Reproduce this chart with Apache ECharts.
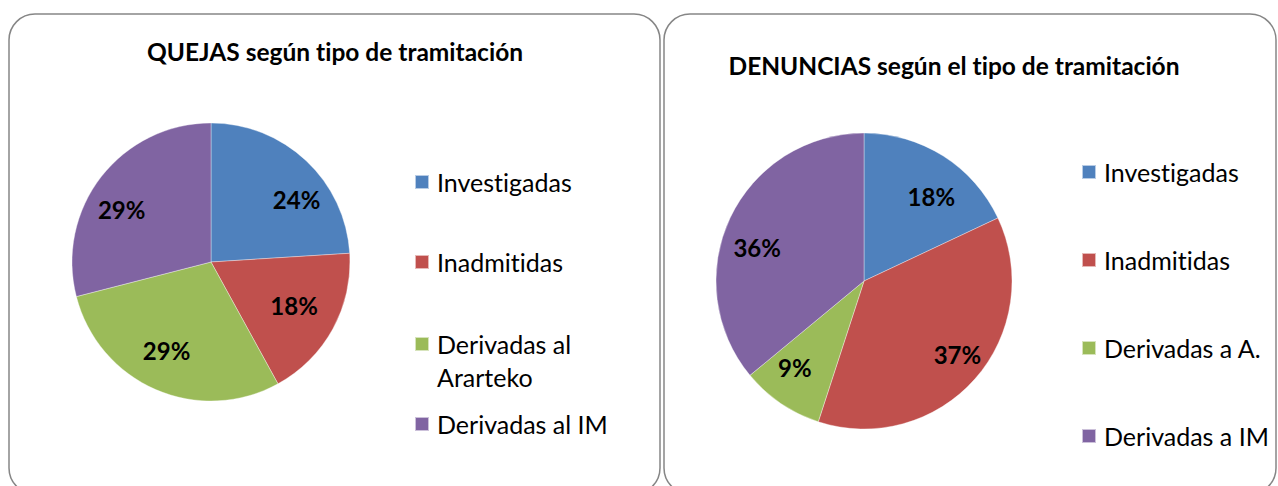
<!DOCTYPE html>
<html>
<head>
<meta charset="utf-8">
<script src="https://cdn.jsdelivr.net/npm/echarts@6/dist/echarts.min.js"></script>
<style>
html,body{margin:0;padding:0;background:#fff;}
#c{width:1278px;height:486px;}
#c text{font-variant-ligatures:none;font-feature-settings:"liga" 0,"clig" 0;}
</style>
</head>
<body>
<div id="c"></div>
<script>
// ---- data ----
const quejasTitle = 'QUEJAS según tipo de tramitación';
const quejasCategories = ['Investigadas', 'Inadmitidas', 'Derivadas al Ararteko', 'Derivadas al IM'];
const quejasValues = [24, 18, 29, 29];

const denunciasTitle = 'DENUNCIAS según el tipo de tramitación';
const denunciasCategories = ['Investigadas', 'Inadmitidas', 'Derivadas a A.', 'Derivadas a IM'];
const denunciasValues = [18, 37, 9, 36];

// ---- style ----
const colors = ['#4F81BD', '#C0504D', '#9BBB59', '#8064A2'];
const FONT = 'Lato, Carlito, "Noto Sans", sans-serif';
// label ring (fraction of radius) and small per-label nudges (px) to mimic Excel's best-fit placement
const quejasLabelRatio = 0.71;
const quejasLabelNudge = [[16, 12], [-6, -5], [-4, -5], [-9, 10]];
const denunciasLabelRatio = 0.74;
const denunciasLabelNudge = [[7, 11], [9, -1], [-6, -7], [-5, 14]];

function pieSeries(cats, vals, center, r, ratio, nudges) {
  return [{
    type: 'pie',
    center: center,
    radius: [0, r],
    startAngle: 90,
    clockwise: true,
    silent: true,
    label: { show: false },
    labelLine: { show: false },
    itemStyle: { borderColor: 'rgba(255,255,255,0.6)', borderWidth: 0.6 },
    emphasis: { disabled: true },
    data: cats.map((n, i) => ({ name: n, value: vals[i], itemStyle: { color: colors[i] } }))
  }, {
    type: 'pie',
    center: center,
    radius: [Math.max(0, (2 * ratio - 1) * r), r],
    startAngle: 90,
    clockwise: true,
    silent: true,
    legendHoverLink: false,
    itemStyle: { color: 'rgba(0,0,0,0)', borderWidth: 0 },
    emphasis: { disabled: true },
    labelLine: { show: false },
    label: {
      show: true,
      position: 'inside',
      color: '#000',
      fontFamily: FONT,
      fontWeight: 'bold',
      fontSize: 24,
      formatter: p => Math.round(p.percent) + '%'
    },
    data: cats.map((n, i) => ({ name: n, value: vals[i], label: { offset: nudges[i] } }))
  }];
}

function legendItem(data, left, top, fmt) {
  return {
    data: data,
    orient: 'vertical',
    left: left, top: top,
    padding: 0,
    itemWidth: 14, itemHeight: 14,
    itemGap: 55,
    icon: 'rect',
    selectedMode: false,
    textStyle: { fontFamily: FONT, fontSize: 25, color: '#000', lineHeight: 33, padding: [0, 0, 0, 3] },
    formatter: fmt || (n => n)
  };
}

const legends = [
  legendItem([quejasCategories[0]], 414, 165.5),
  legendItem([quejasCategories[1]], 414, 245.5),
  legendItem([quejasCategories[2]], 414, 294.5, () => '\nDerivadas al\nArarteko'),
  legendItem([quejasCategories[3]], 414, 407.5),
  legendItem(denunciasCategories, 1081, 155.5)
];

const chart = echarts.init(document.getElementById('c'), null, { renderer: 'svg' });
chart.setOption({
  animation: false,
  backgroundColor: '#fff',
  graphic: [
    { type: 'rect', shape: { x: 9, y: 14, width: 651, height: 480, r: 26 }, style: { fill: '#fff', stroke: '#868686', lineWidth: 1.5 }, z: -10 },
    { type: 'rect', shape: { x: 664, y: 14, width: 612, height: 480, r: 26 }, style: { fill: '#fff', stroke: '#868686', lineWidth: 1.5 }, z: -10 }
  ],
  title: [
    { text: quejasTitle, left: 335, top: 39, textAlign: 'center', padding: 0,
      textStyle: { fontFamily: FONT, fontWeight: 'bold', fontSize: 24.5, color: '#000' } },
    { text: denunciasTitle, left: 954, top: 53, textAlign: 'center', padding: 0,
      textStyle: { fontFamily: FONT, fontWeight: 'bold', fontSize: 24.5, color: '#000' } }
  ],
  legend: legends,
  series: [
    ...pieSeries(quejasCategories, quejasValues, [211, 262], 139, quejasLabelRatio, quejasLabelNudge),
    ...pieSeries(denunciasCategories, denunciasValues, [864, 281], 148, denunciasLabelRatio, denunciasLabelNudge)
  ]
});
</script>
</body>
</html>
